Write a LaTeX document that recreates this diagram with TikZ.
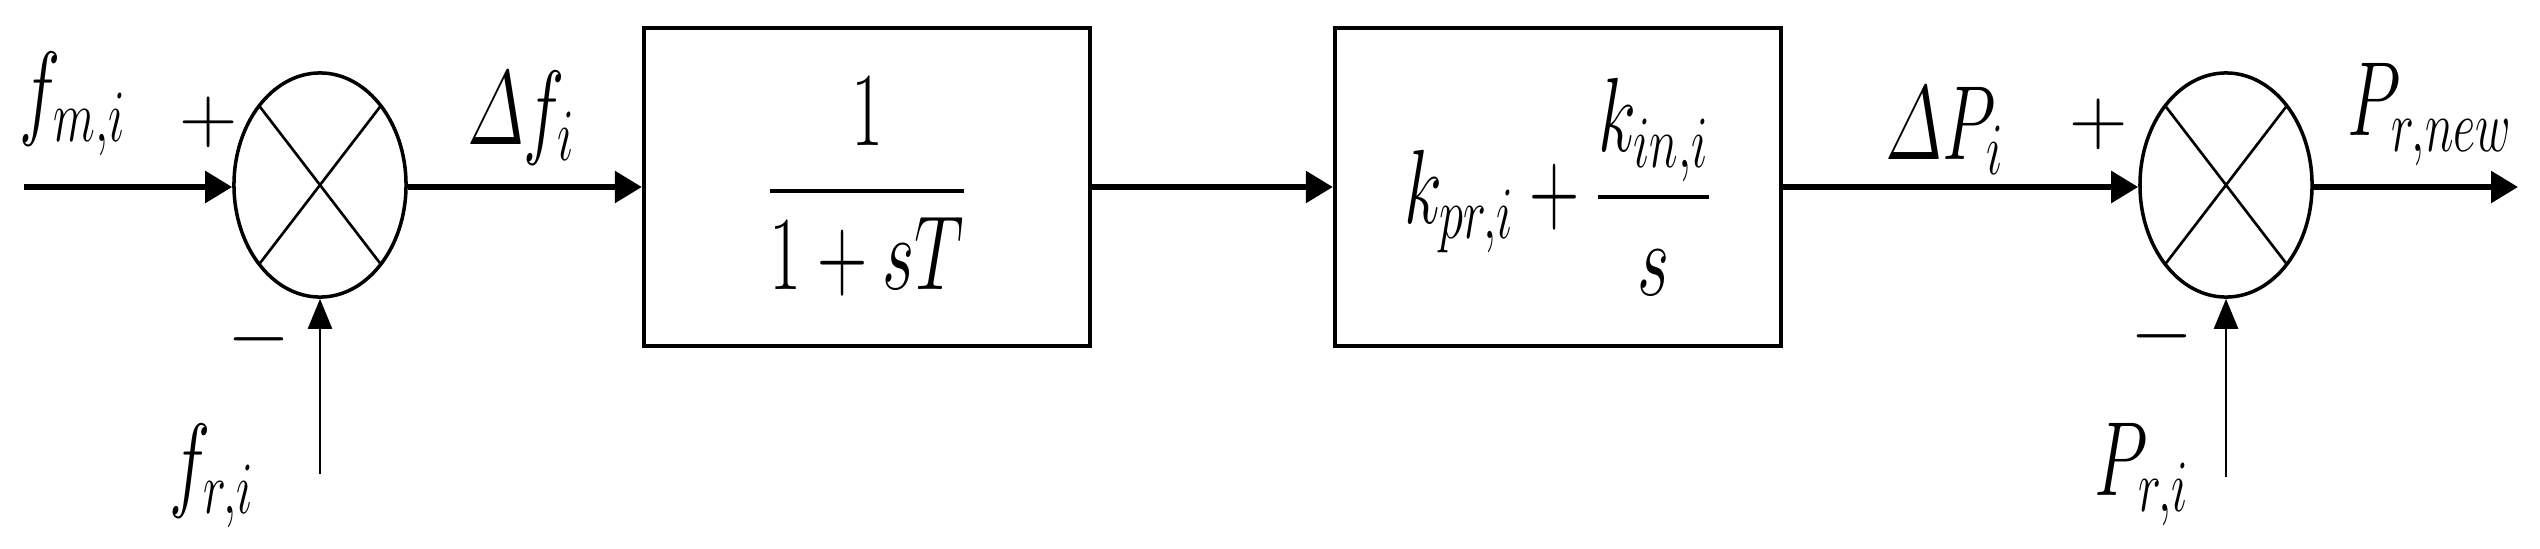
\RequirePackage{fix-cm}
\documentclass[tikz,border=0pt]{standalone}
\usepackage{amsmath,graphicx}
\usetikzlibrary{arrows.meta,shapes.geometric,positioning}

\newcommand{\sq}[1]{\scalebox{0.66}[1]{$\displaystyle #1$}}

\tikzset{
 sumnode/.style={ellipse,draw,line width=1pt,minimum width=1.72cm,minimum height=2.24cm,inner sep=0pt,
  path picture={\draw[line width=.75pt]
   (path picture bounding box.north west)--(path picture bounding box.south east)
   (path picture bounding box.north east)--(path picture bounding box.south west);}},
 blockbox/.style={draw,line width=1.15pt,minimum width=4.46cm,minimum height=3.18cm,inner sep=0pt,
  font=\fontsize{30}{36}\selectfont},
 lbl/.style={inner sep=0pt,font=\fontsize{30}{36}\selectfont},
 sgn/.style={inner sep=0pt,font=\fontsize{23}{26}\selectfont},
 sig/.style={-{Triangle[length=.27cm,width=.31cm]},line width=1.6pt},
 fb/.style={-{Triangle[length=.3cm,width=.24cm]},line width=.75pt},
}

\begin{document}
\begin{tikzpicture}[x=.01cm,y=-.01cm]
\useasboundingbox (0,0) rectangle (2540,548);
% summing points and blocks
\node[sumnode] (sumf) at (320,185) {};
\node[blockbox] (lag) at (867,187) {\sq{\frac{1}{1+sT}}};
\node[blockbox] (pi) at (1558,187) {\sq{k_{pr,i}+\frac{k_{in,i}}{s}}};
\node[sumnode] (sump) at (2226,185) {};
% free ends
\coordinate (fin) at (24,187);
\coordinate (pout) at (2518,187);
\coordinate (frin) at (320,474);
\coordinate (prin) at (2226,477);
% signals
\draw[sig] (fin) -- (fin -| sumf.west);
\draw[sig] (sumf.east |- fin) -- (lag);
\draw[sig] (lag) -- (pi);
\draw[sig] (pi) -- (pi -| sump.west);
\draw[sig] (sump.east |- pout) -- (pout);
\draw[fb] (frin) -- (sumf.south);
\draw[fb] (prin) -- (sump.south);
% labels
\node[lbl] (fm) at (73,104) {\sq{f_{m,i}}};
\node[sgn] (fmplus) at (209,122) {$+$};
\node[sgn] (frminus) at (259,339) {$-$};
\node[lbl] (fr) at (212,476) {\sq{f_{r,i}}};
\node[lbl] (df) at (521,118) {\sq{\varDelta f_i}};
\node[lbl] (dp) at (1945,131) {\sq{\varDelta P_i}};
\node[sgn] (dpplus) at (2099,124) {$+$};
\node[sgn] (prminus) at (2162,336) {$-$};
\node[lbl] (pnew) at (2430,115) {\sq{P_{r,new}}};
\node[lbl] (pr) at (2142,475) {\sq{P_{r,i}}};
\end{tikzpicture}
\end{document}
